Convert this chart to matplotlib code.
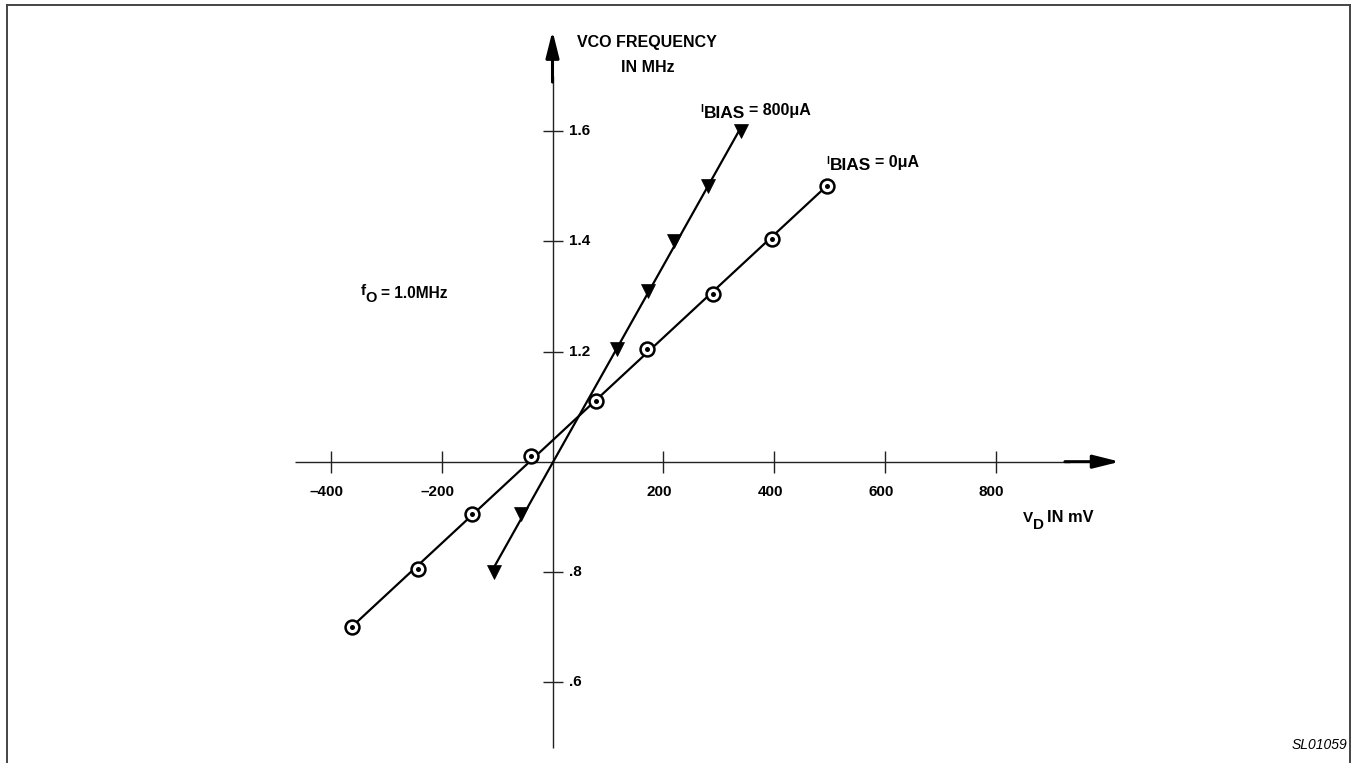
import numpy as np
import matplotlib
matplotlib.use("Agg")
import matplotlib.pyplot as plt
from matplotlib.lines import Line2D

# ---------------- data ----------------
vd_0ua = [-362, -242, -146, -38, 78, 170, 290, 396, 495]          # mV
f_0ua = [0.70, 0.805, 0.905, 1.01, 1.11, 1.205, 1.305, 1.405, 1.50]  # MHz
vd_800ua = [-105, -56, 117, 173, 219, 281, 341]                     # mV
f_800ua = [0.80, 0.905, 1.205, 1.31, 1.40, 1.50, 1.60]              # MHz

x_ticks = [-400, -200, 200, 400, 600, 800]
x_tick_labels = ["\u2013400", "\u2013200", "200", "400", "600", "800"]
y_ticks = [0.6, 0.8, 1.2, 1.4, 1.6]
y_tick_labels = [".6", ".8", "1.2", "1.4", "1.6"]

# ---------------- figure ----------------
W, H = 1358, 763
plt.rcParams['font.family'] = ['Liberation Sans', 'DejaVu Sans']
fig = plt.figure(figsize=(W / 100, H / 100), dpi=100)
ax = fig.add_axes([0, 0, 1, 1])
ax.axis('off')

PX = 0.554      # pixels per mV
PY = 551.0      # pixels per MHz
X0, Y0 = 552.5, 461.7   # pixel location of origin (0 mV, 1.0 MHz)
ax.set_xlim(-X0 / PX, (W - X0) / PX)
ax.set_ylim(1 - (H - Y0) / PY, 1 + Y0 / PY)

def fx(px):
    return px / W

def fy(py):
    return 1 - py / H

axc = '#222222'
astyle = '-|>,head_length=0.8,head_width=0.2'
# horizontal axis
ax.plot([-465, 935], [1.0, 1.0], color=axc, lw=1.0, solid_capstyle='butt')
ax.annotate('', xy=(1024, 1.0), xytext=(925, 1.0),
            arrowprops=dict(arrowstyle=astyle, mutation_scale=20, lw=2.2,
                            color='black', shrinkA=0, shrinkB=0))
# vertical axis
ax.plot([0, 0], [0.48, 1.70], color=axc, lw=1.0, solid_capstyle='butt')
ax.annotate('', xy=(0, 1.782), xytext=(0, 1.689),
            arrowprops=dict(arrowstyle=astyle, mutation_scale=20, lw=2.2,
                            color='black', shrinkA=0, shrinkB=0))

# ticks
ax.plot(x_ticks, [1.0] * len(x_ticks), ls='none', marker='|',
        markersize=16, mew=1.0, color=axc)
ax.plot([0] * len(y_ticks), y_ticks, ls='none', marker='_',
        markersize=15, mew=1.0, color=axc)

tfont = dict(fontsize=11, fontweight='bold', color='black')
for v, lab in zip(x_ticks, x_tick_labels):
    ax.annotate(lab, (v, 1.0), xytext=(-4, -30), textcoords='offset pixels',
                ha='center', va='center', **tfont)
for v, lab in zip(y_ticks, y_tick_labels):
    ax.annotate(lab, (0, v), xytext=(17, 0), textcoords='offset pixels',
                ha='left', va='center', **tfont)

# fit lines through each series
for xs, ys in ((vd_0ua, f_0ua), (vd_800ua, f_800ua)):
    k, b = np.polyfit(xs, ys, 1)
    xe = np.array([min(xs), max(xs)])
    ax.plot(xe, k * xe + b, color='black', lw=1.6, zorder=3)

# markers
ax.plot(vd_0ua, f_0ua, ls='none', marker='o', markersize=10,
        markerfacecolor='white', markeredgecolor='black', mew=1.8, zorder=4)
ax.plot(vd_0ua, f_0ua, ls='none', marker='o', markersize=3.6,
        markerfacecolor='black', markeredgecolor='black', mew=0, zorder=5)
ax.plot(vd_800ua, f_800ua, ls='none', marker='v', markersize=10.5,
        markerfacecolor='black', markeredgecolor='black', mew=0.5, zorder=4)

# ---------------- texts ----------------
bold = dict(fontweight='bold', color='black')
fig.text(fx(647), fy(42), 'VCO FREQUENCY', ha='center', va='center', fontsize=11.5, **bold)
fig.text(fx(648), fy(67), 'IN MHz', ha='center', va='center', fontsize=11.5, **bold)

renderer = fig.canvas.get_renderer()

def bias_label(x, y, value):
    fig.text(fx(x), fy(y - 5), 'I', ha='left', va='center', fontsize=7.5, **bold)
    t = fig.text(fx(x + 3.5), fy(y), 'BIAS', ha='left', va='center', fontsize=12.5, **bold)
    ext = t.get_window_extent(renderer)
    fig.text(fx(ext.x1 + 4), fy(y - 4), '= ' + value + '\u03bcA', ha='left',
             va='center', fontsize=11.5, **bold)

bias_label(700, 114, '800')
bias_label(826, 166, '0')

fig.text(fx(361), fy(291), 'f', ha='left', va='center', fontsize=11, **bold)
fig.text(fx(365), fy(298), 'O', ha='left', va='center', fontsize=10.5, **bold)
fig.text(fx(381), fy(293), '= 1.0MHz', ha='left', va='center', fontsize=11.2, **bold)

fig.text(fx(1023), fy(518), 'V', ha='left', va='center', fontsize=11, **bold)
fig.text(fx(1033), fy(525), 'D', ha='left', va='center', fontsize=11, **bold)
fig.text(fx(1047), fy(518), 'IN mV', ha='left', va='center', fontsize=11.8, **bold)

fig.text(fx(1347), fy(745), 'SL01059', ha='right', va='center', fontsize=10,
         fontstyle='italic', color='black')

# frame
fc = '#444444'
fig.add_artist(Line2D([fx(7), fx(1350)], [fy(5), fy(5)], color=fc, lw=1.4))
fig.add_artist(Line2D([fx(7), fx(7)], [fy(5), 0], color=fc, lw=1.4))
fig.add_artist(Line2D([fx(1350), fx(1350)], [fy(5), 0], color=fc, lw=1.4))

fig.savefig('out.png', dpi=100)
